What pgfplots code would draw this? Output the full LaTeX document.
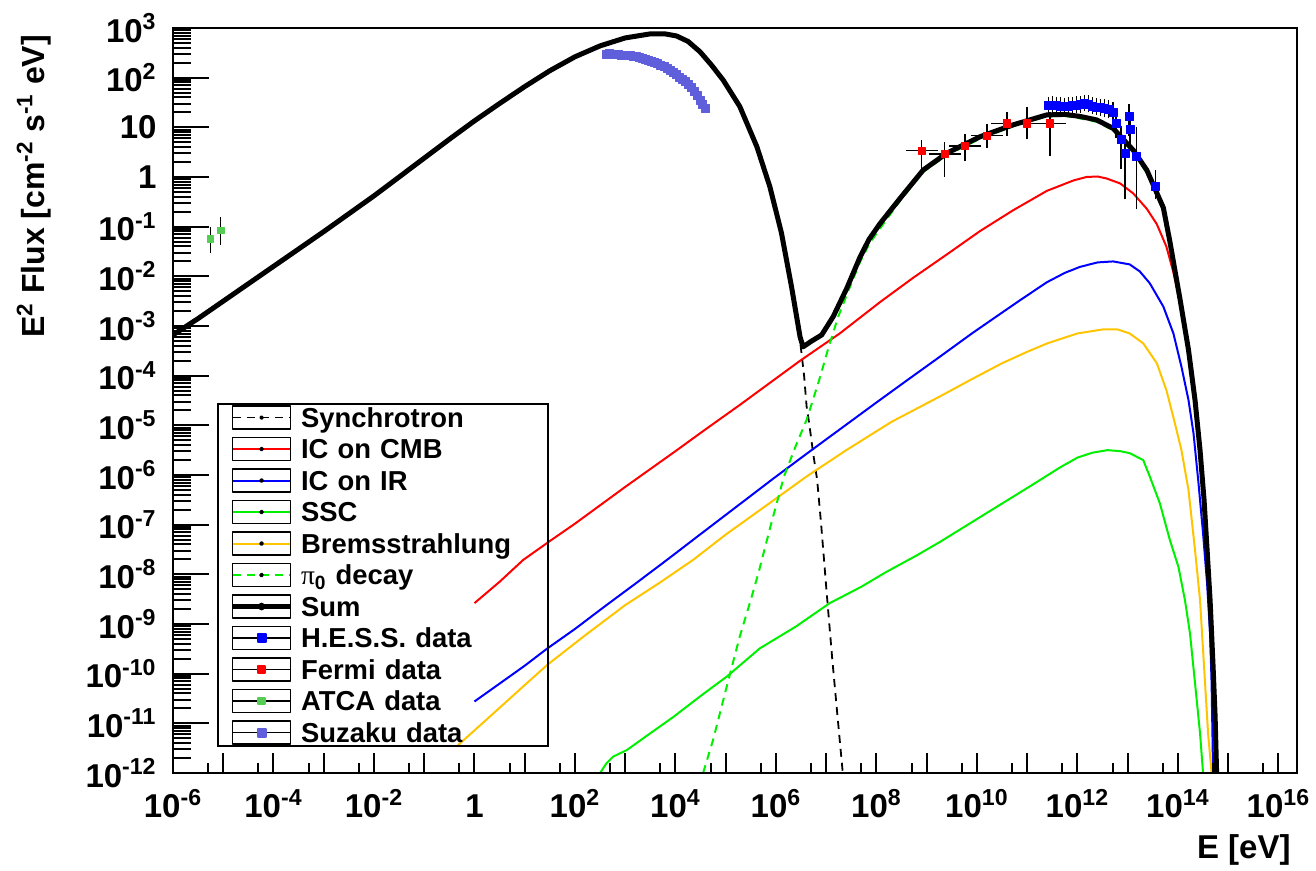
\documentclass[border=0pt]{standalone}
\usepackage{fontspec}
\setmainfont{Liberation Sans}
\newfontfamily\pifont{Liberation Serif}
\usepackage{pgfplots}
\pgfplotsset{compat=1.18}
\definecolor{rootorange}{RGB}{255,196,0}
\definecolor{rootgreen}{RGB}{0,240,0}
\definecolor{suzaku}{RGB}{95,95,220}
\definecolor{atca}{RGB}{85,205,85}
\pgfplotsset{
  legbox/.style={legend image code/.code={
      \draw[black,line width=0.9pt,solid] (0pt,-5.75pt) rectangle (29pt,5.75pt);
      \draw[##1] (0.45pt,0pt) -- (28.55pt,0pt);
      \fill[black] (14.5pt,0pt) circle (0.7pt);
      \path (33pt,0pt);
  }},
  legdata/.style={legend image code/.code={
      \draw[black,line width=0.9pt,solid] (0pt,-5.75pt) rectangle (29pt,5.75pt);
      \draw[black,line width=0.8pt,solid] (0.45pt,0pt) -- (28.55pt,0pt);
      \draw[##1] plot coordinates {(14.5pt,0pt)};
      \path (33pt,0pt);
  }},
}
\begin{document}
\begin{tikzpicture}
\useasboundingbox (-86.5pt,-49pt) rectangle (571.5pt,386.5pt);
\begin{axis}[
  scale only axis, width=562pt, height=372.5pt,
  xmin=-6, xmax=16.37, ymin=-12, ymax=3,
  axis on top,
  axis line style={line width=1.1pt},
  tick pos=left, tick align=inside,
  xtick={-6,-5,...,16},
  xticklabels={10\textsuperscript{-6},,10\textsuperscript{-4},,10\textsuperscript{-2},,1,,10\textsuperscript{2},,10\textsuperscript{4},,10\textsuperscript{6},,10\textsuperscript{8},,10\textsuperscript{10},,10\textsuperscript{12},,10\textsuperscript{14},,10\textsuperscript{16}},
  minor xtick={-5.30103,-4.30103,...,15.69897},
  ytick={-12,-11,...,3},
  yticklabels={10\textsuperscript{-12},10\textsuperscript{-11},10\textsuperscript{-10},10\textsuperscript{-9},10\textsuperscript{-8},10\textsuperscript{-7},10\textsuperscript{-6},10\textsuperscript{-5},10\textsuperscript{-4},10\textsuperscript{-3},10\textsuperscript{-2},10\textsuperscript{-1},1,10,10\textsuperscript{2},10\textsuperscript{3}},
  minor ytick={-11.69897,-10.69897,...,2.30103,-11.52288,-10.52288,...,2.47712,-11.39794,-10.39794,...,2.60206,-11.30103,-10.30103,...,2.69897,-11.22185,-10.22185,...,2.77815,-11.15490,-10.15490,...,2.84510,-11.09691,-10.09691,...,2.90309,-11.04576,-10.04576,...,2.95424},
  xtick style={/pgfplots/major tick length=10pt,/pgfplots/minor tick length=5pt,line width=1pt,black},
  ytick style={/pgfplots/major tick length=18pt,/pgfplots/minor tick length=9pt,line width=1pt,black},
  minor tick style={line width=1pt,black},
  tick label style={font=\fontsize{16.5}{16.5}\selectfont\bfseries},
  xticklabel style={anchor=base, yshift=-22.5pt},
  yticklabel style={anchor=east, inner sep=0pt, xshift=-8pt},
  xlabel={E [eV]},
  xlabel style={at={(rel axis cs:1,0)}, anchor=base east, inner sep=0pt, yshift=-43pt, xshift=-3pt, font=\fontsize{16.5}{16.5}\selectfont\bfseries},
  ylabel={E\textsuperscript{2} Flux [cm\textsuperscript{-2} s\textsuperscript{-1} eV]},
  ylabel style={at={(axis description cs:-0.1139,1)}, anchor=base east, font=\fontsize{16}{16}\selectfont\bfseries},
  legend cell align=left,
  legend style={at={(rel axis cs:0.0394,0.497)}, anchor=north west, draw=black, line width=1pt, fill=none,
    inner xsep=6.35pt, inner ysep=0.7pt, row sep=3.35pt, column sep=0pt,
    font=\fontsize{13.7}{13.7}\selectfont\bfseries,
    nodes={inner sep=0pt, text height=11pt, text depth=1.3pt, text width=117pt, align=left},
    cells={anchor=west}},
  every axis plot/.append style={line join=round},
]
% Synchrotron
\addplot[black, line width=0.9pt, dash pattern=on 4pt off 3pt, no markers, legbox] table[x=lx,y=ly]{
lx ly
-6.00 -3.18
-5.50 -2.85
-5.00 -2.50
-4.50 -2.15
-4.00 -1.80
-3.50 -1.45
-3.00 -1.10
-2.50 -0.74
-2.00 -0.38
-1.50 0.00
-1.00 0.38
-0.50 0.76
0.00 1.13
0.50 1.48
1.00 1.82
1.50 2.14
2.00 2.42
2.50 2.64
3.00 2.80
3.49 2.88
3.80 2.88
4.02 2.84
4.25 2.73
4.49 2.52
4.72 2.25
4.95 1.95
5.28 1.42
5.62 0.61
5.88 -0.20
6.11 -1.13
6.31 -2.23
6.48 -3.30
6.56 -4.00
6.61 -4.62
6.66 -4.95
6.74 -5.56
6.82 -6.10
6.90 -7.00
7.02 -8.50
7.12 -9.70
7.22 -10.80
7.33 -12.00
};
\addlegendentry{Synchrotron}
% IC on CMB
\addplot[red, line width=1pt, no markers, legbox] table[x=lx,y=ly]{
lx ly
0.00 -8.58
0.50 -8.15
0.97 -7.71
1.50 -7.33
2.00 -6.98
2.50 -6.61
3.00 -6.24
3.50 -5.88
4.00 -5.52
4.60 -5.08
5.28 -4.59
5.90 -4.13
6.48 -3.70
7.27 -3.15
8.07 -2.52
8.73 -2.03
9.40 -1.56
10.06 -1.09
10.72 -0.67
11.39 -0.28
11.92 -0.07
12.18 0.00
12.40 0.01
12.58 -0.03
12.85 -0.13
13.11 -0.33
13.38 -0.64
13.58 -0.95
13.77 -1.40
13.91 -1.92
14.04 -2.52
14.21 -3.55
14.34 -4.58
14.44 -5.58
14.52 -6.60
14.58 -7.60
14.64 -8.62
14.70 -9.95
14.74 -10.95
14.76 -12.00
};
\addlegendentry{IC on CMB}
% IC on IR
\addplot[blue, line width=1pt, no markers, legbox] table[x=lx,y=ly]{
lx ly
0.00 -10.56
0.50 -10.20
1.00 -9.84
1.44 -9.50
2.00 -9.10
2.60 -8.64
3.20 -8.19
3.83 -7.71
4.50 -7.19
5.20 -6.65
5.95 -6.07
6.60 -5.58
7.30 -5.06
8.00 -4.54
8.60 -4.10
9.26 -3.62
9.90 -3.15
10.40 -2.80
10.86 -2.48
11.39 -2.12
11.75 -1.93
12.05 -1.81
12.40 -1.72
12.71 -1.70
13.04 -1.76
13.24 -1.90
13.44 -2.14
13.71 -2.61
13.91 -3.15
14.07 -3.82
14.21 -4.49
14.31 -5.16
14.41 -6.17
14.50 -7.17
14.58 -8.18
14.64 -9.19
14.67 -10.19
14.70 -12.00
};
\addlegendentry{IC on IR}
% SSC
\addplot[rootgreen, line width=1pt, no markers, legbox] table[x=lx,y=ly]{
lx ly
2.50 -12.00
2.63 -11.80
2.76 -11.67
3.03 -11.54
3.50 -11.20
3.96 -10.87
4.50 -10.45
5.02 -10.06
5.68 -9.49
6.40 -9.05
7.07 -8.58
7.70 -8.25
8.20 -7.95
8.80 -7.62
9.26 -7.35
9.90 -6.95
10.46 -6.60
11.10 -6.20
11.65 -5.85
12.00 -5.65
12.30 -5.55
12.60 -5.50
12.85 -5.52
13.04 -5.56
13.31 -5.70
13.44 -6.03
13.64 -6.57
13.84 -7.31
14.01 -7.85
14.14 -8.52
14.24 -9.19
14.34 -10.19
14.44 -11.20
14.50 -12.00
};
\addlegendentry{SSC}
% Bremsstrahlung
\addplot[color=rootorange, line width=1pt, no markers, legbox] table[x=lx,y=ly]{
lx ly
-0.36 -11.47
0.30 -10.87
1.00 -10.23
1.44 -9.83
2.20 -9.23
3.00 -8.62
3.70 -8.16
4.35 -7.71
5.00 -7.20
5.80 -6.62
6.61 -6.03
7.40 -5.50
8.30 -4.93
9.26 -4.42
9.90 -4.07
10.50 -3.75
11.00 -3.52
11.40 -3.35
12.00 -3.15
12.50 -3.07
12.80 -3.07
13.04 -3.15
13.31 -3.35
13.58 -3.75
13.77 -4.29
13.94 -4.96
14.07 -5.50
14.21 -6.30
14.34 -7.51
14.44 -8.52
14.52 -9.86
14.60 -11.20
14.67 -12.00
};
\addlegendentry{Bremsstrahlung}
% pi0 decay
\addplot[rootgreen, line width=1pt, dash pattern=on 4pt off 3pt, no markers, legbox] table[x=lx,y=ly]{
lx ly
4.55 -12.00
4.75 -11.33
5.02 -10.26
5.28 -9.25
5.48 -8.58
5.65 -7.98
5.90 -7.00
6.16 -6.03
6.40 -5.40
6.61 -4.89
6.86 -4.09
7.05 -3.42
7.24 -2.81
7.45 -2.27
7.67 -1.72
7.85 -1.36
8.07 -1.04
8.47 -0.48
8.93 0.10
9.40 0.44
10.06 0.77
10.72 1.02
11.39 1.22
11.75 1.23
12.05 1.18
12.38 1.11
12.71 0.94
13.11 0.49
13.38 0.08
13.71 -0.68
13.84 -1.36
13.94 -1.93
14.04 -2.50
14.21 -3.53
14.34 -4.54
14.44 -5.55
14.52 -6.55
14.58 -7.55
14.64 -8.57
14.70 -9.90
14.74 -10.90
14.77 -12.00
};
\addlegendentry{{\pifont\mdseries π}\textsubscript{0} decay}
% Sum
\addplot[black, line width=2.5pt, no markers, legbox] table[x=lx,y=ly]{
lx ly
-6.00 -3.18
-5.50 -2.85
-5.00 -2.50
-4.50 -2.15
-4.00 -1.80
-3.50 -1.45
-3.00 -1.10
-2.50 -0.74
-2.00 -0.38
-1.50 0.00
-1.00 0.38
-0.50 0.76
0.00 1.13
0.50 1.48
1.00 1.82
1.50 2.14
2.00 2.42
2.50 2.64
3.00 2.80
3.49 2.88
3.80 2.88
4.02 2.84
4.25 2.73
4.49 2.52
4.72 2.25
4.95 1.95
5.28 1.42
5.62 0.61
5.88 -0.20
6.11 -1.13
6.31 -2.21
6.48 -3.22
6.54 -3.42
6.70 -3.31
6.91 -3.18
7.14 -2.81
7.41 -2.24
7.67 -1.62
7.85 -1.26
8.07 -0.94
8.47 -0.43
8.93 0.14
9.40 0.48
10.06 0.81
10.72 1.05
11.39 1.25
11.75 1.26
12.05 1.22
12.38 1.15
12.71 0.98
13.11 0.54
13.38 0.14
13.71 -0.62
13.84 -1.30
13.94 -1.88
14.04 -2.45
14.21 -3.48
14.34 -4.49
14.44 -5.50
14.52 -6.50
14.58 -7.50
14.64 -8.52
14.70 -9.86
14.74 -10.86
14.77 -12.00
};
\addlegendentry{Sum}
% H.E.S.S. data
\addplot[only marks, mark=square*, mark size=2pt, blue, legdata,
  error bars/.cd, y dir=both, y explicit,
  error bar style={black, line width=0.7pt},
  error mark options={black, line width=0.7pt, mark size=3pt}]
  table[x=lx, y=ly, y error plus=yp, y error minus=ym]{
lx ly yp ym
11.42 1.44 0.05 0.05
11.50 1.45 0.05 0.05
11.58 1.44 0.05 0.05
11.66 1.43 0.05 0.05
11.74 1.42 0.05 0.05
11.82 1.43 0.05 0.05
11.90 1.44 0.05 0.05
11.98 1.45 0.05 0.05
12.06 1.46 0.05 0.05
12.14 1.49 0.05 0.05
12.22 1.47 0.05 0.05
12.30 1.43 0.05 0.05
12.38 1.41 0.05 0.05
12.46 1.40 0.05 0.05
12.54 1.38 0.06 0.06
12.62 1.36 0.06 0.06
12.71 1.31 0.07 0.07
12.77 1.08 0.12 0.18
12.87 0.75 0.15 0.47
12.95 0.48 0.17 0.81
13.03 1.21 0.14 0.26
13.05 0.95 0.15 0.25
13.17 0.42 0.46 0.95
13.55 -0.18 0.19 0.15
};
\addlegendentry{H.E.S.S. data}
% Fermi data
\addplot[only marks, mark=square*, mark size=1.8pt, red, legdata,
  error bars/.cd, y dir=both, y explicit, x dir=both, x explicit,
  error bar style={black, line width=0.7pt},
  error mark options={black, line width=0.7pt, mark size=3pt}]
  table[x=lx, y=ly, x error plus=xp, x error minus=xm, y error plus=yp, y error minus=ym]{
lx ly xp xm yp ym
8.90 0.53 0.20 0.20 0.09 0.31
9.36 0.46 0.20 0.20 0.12 0.33
9.76 0.62 0.20 0.20 0.12 0.18
10.20 0.83 0.20 0.20 0.12 0.12
10.60 1.08 0.20 0.20 0.10 0.13
11.00 1.08 0.20 0.20 0.20 0.20
11.45 1.08 0.20 0.20 0.10 0.54
};
\addlegendentry{Fermi data}
% ATCA data
\addplot[only marks, mark=square*, mark size=1.6pt, atca, legdata,
  error bars/.cd, y dir=both, y explicit,
  error bar style={black, line width=0.7pt},
  error mark options={black, line width=0.7pt, mark size=3pt}]
  table[x=lx, y=ly, y error plus=yp, y error minus=ym]{
lx ly yp ym
-5.25 -1.25 0.12 0.16
-5.05 -1.08 0.15 0.17
};
\addlegendentry{ATCA data}
% Suzaku data
\addplot[only marks, mark=square*, mark size=2pt, suzaku, legdata] table[x=lx,y=ly]{
lx ly
2.63 2.47
2.69 2.48
2.75 2.47
2.81 2.47
2.87 2.46
2.93 2.45
2.99 2.45
3.05 2.45
3.11 2.44
3.17 2.43
3.23 2.42
3.29 2.40
3.35 2.39
3.41 2.37
3.47 2.34
3.53 2.33
3.59 2.31
3.65 2.28
3.71 2.25
3.77 2.22
3.83 2.19
3.89 2.15
3.95 2.10
4.01 2.06
4.07 2.01
4.13 1.97
4.19 1.92
4.25 1.86
4.31 1.80
4.37 1.72
4.43 1.64
4.49 1.55
4.54 1.47
4.59 1.38
};
\addlegendentry{Suzaku data}
\end{axis}
\end{tikzpicture}
\end{document}
